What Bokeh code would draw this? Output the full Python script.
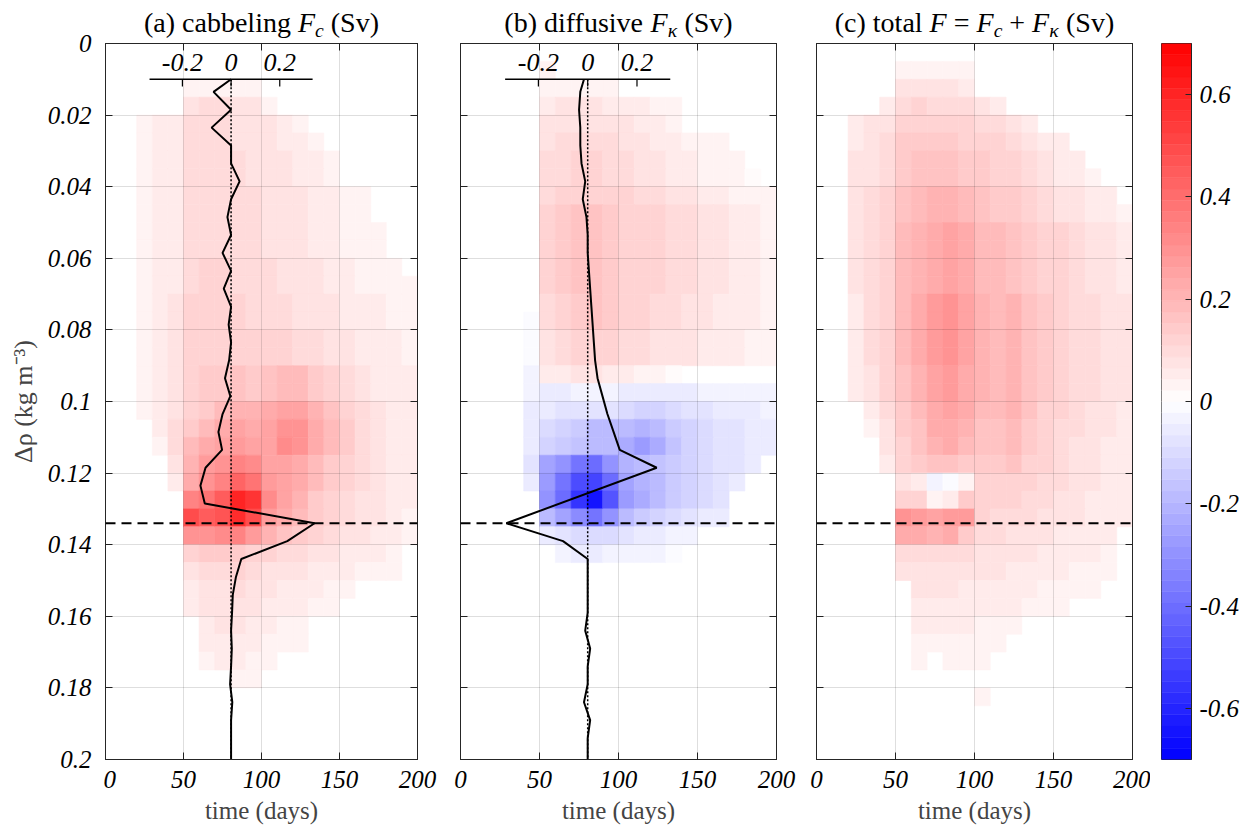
from bokeh.plotting import figure
from bokeh.models import (Range1d, LinearAxis, FixedTicker, CustomJSTickFormatter,
                          LinearColorMapper, ColumnDataSource, Span)
from bokeh.transform import transform
from bokeh.layouts import row, column
from bokeh.embed import file_html
from bokeh.resources import INLINE
from bokeh.core.properties import value

# ------------------------------------------------------------------ data
TIME_EDGES = list(range(0, 201, 10))                 # days, 20 columns
RHO_EDGES = [round(0.005 * i, 3) for i in range(41)]  # kg m-3, 40 rows
X_TICKS = [0, 50, 100, 150, 200]
Y_TICKS = [0, 0.02, 0.04, 0.06, 0.08, 0.1, 0.12, 0.14, 0.16, 0.18, 0.2]
CB_TICKS = [-0.6, -0.4, -0.2, 0, 0.2, 0.4, 0.6]
INSET_TICKS = [-0.2, 0, 0.2]
INSET_LABELS = ["-0.2", "0", "0.2"]
DASH_RHO = 0.134
CLIM = 0.7

Z = [0] * 20
# values in 0.01 Sv ; rows = density bins (0 -> 0.2), columns = 10-day bins
FC = [
    Z, Z,
    [0,0,0,0,0,3,4,4,3,3,0,0,0,0,0,0,0,0,0,0],
    [0,0,0,0,0,8,9,9,8,7,4,0,0,0,0,0,0,0,0,0],
    [0,0,4,5,5,9,10,9,8,8,7,6,3,0,0,0,0,0,0,0],
    [0,0,4,5,5,9,10,10,8,8,7,6,5,3,0,0,0,0,0,0],
    [0,0,4,5,6,9,10,10,9,8,8,7,6,5,3,0,0,0,0,0],
    [0,0,4,5,6,9,10,10,9,8,8,7,6,5,4,0,0,0,0,0],
    [0,0,4,5,6,10,10,10,9,9,8,7,7,6,5,4,3,0,0,0],
    [0,0,4,5,6,10,10,10,9,9,8,7,7,6,5,4,3,0,0,0],
    [0,0,4,5,6,10,10,10,9,9,8,7,7,6,5,4,3,3,0,0],
    [0,0,4,5,6,10,10,10,9,9,8,7,7,6,5,4,3,3,0,0],
    [0,0,4,5,6,10,11,11,10,9,9,8,7,7,6,5,4,4,3,0],
    [0,0,4,5,6,10,11,11,10,9,9,8,7,7,6,5,4,4,3,3],
    [0,0,4,5,7,11,12,12,11,10,10,9,8,7,7,6,5,5,4,4],
    [0,0,4,5,7,11,12,12,11,10,10,9,8,7,7,6,5,5,4,4],
    [0,0,4,5,7,12,13,13,12,12,12,12,10,9,8,7,6,5,5,4],
    [0,0,4,5,7,12,13,13,12,12,12,12,10,9,8,7,6,5,5,4],
    [0,0,4,6,8,12,14,15,16,15,16,18,18,14,12,10,8,6,5,5],
    [0,0,4,6,8,12,14,15,16,15,16,18,18,14,12,10,8,6,5,5],
    [0,0,3,5,8,12,15,18,20,20,22,25,25,20,16,12,10,8,6,5],
    [0,0,0,5,10,15,18,22,25,22,25,30,30,22,18,14,10,8,6,5],
    [0,0,0,3,10,18,22,25,28,25,25,32,30,22,18,14,10,8,6,5],
    [0,0,0,0,8,20,28,30,35,32,25,25,22,18,15,12,10,8,6,5],
    [0,0,0,0,5,22,30,35,42,38,28,25,22,18,15,12,10,8,6,5],
    [0,0,0,0,0,35,38,45,60,55,32,25,20,15,12,10,8,7,6,5],
    [0,0,0,0,0,50,45,48,58,50,28,22,18,14,12,10,8,7,6,4],
    [0,0,0,0,0,30,30,32,35,28,20,16,14,12,10,8,7,6,5,3],
    [0,0,0,0,0,12,14,15,15,13,12,10,9,8,7,6,5,5,4,0],
    [0,0,0,0,0,8,10,10,12,10,8,8,7,6,5,5,4,4,3,0],
    [0,0,0,0,0,6,8,8,10,8,7,6,6,5,4,3,0,0,0,0],
    [0,0,0,0,0,5,7,8,8,7,6,5,5,4,4,0,0,0,0,0],
    [0,0,0,0,0,0,6,7,7,6,5,4,3,0,0,0,0,0,0,0],
    [0,0,0,0,0,0,5,6,6,5,4,3,3,0,0,0,0,0,0,0],
    [0,0,0,0,0,0,4,5,5,4,3,0,0,0,0,0,0,0,0,0],
    [0,0,0,0,0,0,0,0,4,3,0,0,0,0,0,0,0,0,0,0],
    Z, Z, Z, Z,
]

FK = [
    Z,
    [0,0,0,0,0,3,0,0,0,0,0,0,0,0,0,0,0,0,0,0],
    [0,0,0,0,0,4,4,4,4,3,0,0,0,0,0,0,0,0,0,0],
    [0,0,0,0,0,6,7,7,7,6,6,5,4,3,0,0,0,0,0,0],
    [0,0,0,0,0,7,8,8,8,8,7,6,5,4,0,0,0,0,0,0],
    [0,0,0,0,0,8,9,9,9,9,8,7,6,5,4,3,3,0,0,0],
    [0,0,0,0,0,9,10,11,11,10,9,8,7,6,5,4,3,3,0,0],
    [0,0,0,0,0,9,10,11,11,10,9,8,7,6,5,4,3,3,2,0],
    [0,0,0,0,0,10,12,13,13,12,11,10,9,8,7,6,5,4,3,3],
    [0,0,0,0,0,11,14,16,17,15,13,12,11,10,9,8,7,6,5,4],
    [0,0,0,0,0,11,14,16,17,15,13,12,11,10,9,8,7,6,5,4],
    [0,0,0,0,0,11,14,16,17,15,13,12,11,10,9,8,7,6,5,4],
    [0,0,0,0,0,11,14,16,17,15,13,12,11,10,9,8,7,6,5,4],
    [0,0,0,0,0,11,14,16,17,15,13,12,11,10,9,8,7,6,5,4],
    [0,0,0,0,0,10,13,15,16,14,12,11,10,9,8,7,6,5,5,4],
    [0,0,0,0,-2,10,13,15,16,14,12,11,10,9,8,7,6,5,5,4],
    [0,0,0,0,-2,8,10,12,12,11,10,9,8,7,7,6,5,5,4,4],
    [0,0,0,0,-2,8,10,12,12,11,10,9,8,7,7,6,5,5,4,4],
    [0,0,0,0,-3,5,6,7,7,6,5,4,3,2,0,0,0,0,0,0],
    [0,0,0,0,-4,-5,-5,-4,-3,-4,-5,-6,-6,-5,-5,-4,-4,-3,-3,-3],
    [0,0,0,0,-5,-6,-7,-8,-8,-8,-10,-12,-12,-10,-8,-7,-6,-5,-5,-4],
    [0,0,0,0,-6,-9,-12,-14,-18,-18,-18,-20,-18,-14,-11,-9,-8,-7,-6,-5],
    [0,0,0,0,-6,-12,-15,-16,-18,-18,-22,-28,-22,-16,-12,-10,-8,-7,-6,-5],
    [0,0,0,0,-8,-25,-30,-38,-40,-30,-20,-18,-16,-14,-12,-10,-8,-7,-6,0],
    [0,0,0,0,-6,-28,-38,-50,-52,-40,-25,-20,-18,-15,-12,-10,-8,-6,0,0],
    [0,0,0,0,0,-30,-40,-55,-65,-48,-28,-22,-18,-15,-12,-10,-8,0,0,0],
    [0,0,0,0,0,-18,-25,-32,-38,-30,-18,-14,-12,-10,-8,-6,-5,0,0,0],
    [0,0,0,0,0,-5,-8,-10,-10,-9,-7,-6,-5,-4,-3,0,0,0,0,0],
    [0,0,0,0,0,0,-4,-5,-5,-4,-3,-3,-3,-2,0,0,0,0,0,0],
    Z, Z, Z, Z, Z, Z, Z, Z, Z, Z, Z,
]

FT = [
    Z,
    [0,0,0,0,0,4,4,3,4,3,0,0,0,0,0,0,0,0,0,0],
    [0,0,0,0,0,8,8,7,7,6,0,0,0,0,0,0,0,0,0,0],
    [0,0,0,0,6,10,11,10,10,9,7,5,0,0,0,0,0,0,0,0],
    [0,0,6,7,8,12,13,12,12,11,10,9,7,5,0,0,0,0,0,0],
    [0,0,6,8,9,14,15,15,15,13,12,11,10,8,6,5,0,0,0,0],
    [0,0,7,8,10,15,17,17,17,15,14,12,11,10,8,6,5,0,0,0],
    [0,0,7,8,10,15,17,17,17,15,14,12,11,10,8,6,5,4,0,0],
    [0,0,7,9,11,17,19,20,20,18,16,15,14,12,10,8,7,6,5,0],
    [0,0,7,9,11,17,19,20,20,18,16,15,14,12,10,8,7,6,5,4],
    [0,0,7,9,12,18,21,24,25,22,19,18,17,15,13,11,9,8,7,6],
    [0,0,7,9,12,18,21,24,25,22,19,18,17,15,13,11,9,8,7,6],
    [0,0,7,9,12,18,21,24,25,22,19,18,17,15,13,11,9,8,7,6],
    [0,0,7,9,12,18,21,24,25,22,19,18,17,15,13,11,9,8,7,6],
    [0,0,6,9,12,18,22,28,30,25,20,19,20,17,14,12,10,9,8,7],
    [0,0,6,9,12,18,22,28,30,25,20,19,20,17,14,12,10,9,8,7],
    [0,0,6,9,12,18,22,28,30,25,20,19,20,17,14,12,10,9,8,7],
    [0,0,6,9,12,18,22,28,30,25,20,19,20,17,14,12,10,9,8,7],
    [0,0,5,8,11,17,21,26,28,24,20,19,21,17,14,12,10,9,8,7],
    [0,0,5,8,11,17,21,26,28,24,20,19,21,17,14,12,10,9,8,7],
    [0,0,0,6,10,15,19,24,26,22,18,18,20,16,13,11,9,8,7,6],
    [0,0,0,4,8,14,17,22,24,20,17,17,19,15,12,10,9,8,7,6],
    [0,0,0,0,7,13,16,20,22,18,16,16,18,14,11,10,8,7,6,5],
    [0,0,0,0,5,12,14,16,16,15,14,15,16,13,11,9,8,7,6,5],
    [0,0,0,0,0,8,6,-3,-2,4,12,13,13,12,10,9,8,7,6,5],
    [0,0,0,0,0,12,12,3,6,14,12,11,11,10,9,8,7,6,6,5],
    [0,0,0,0,0,30,28,25,28,28,12,10,10,9,8,7,7,6,5,5],
    [0,0,0,0,0,22,22,20,24,14,9,9,8,8,7,6,6,5,5,0],
    [0,0,0,0,0,10,10,10,10,9,8,8,7,7,6,6,5,5,4,0],
    [0,0,0,0,0,7,8,8,8,7,7,7,6,6,5,5,4,4,3,0],
    [0,0,0,0,0,0,7,7,7,6,6,6,5,5,4,4,3,3,0,0],
    [0,0,0,0,0,0,6,6,6,6,5,5,5,4,4,3,0,0,0,0],
    [0,0,0,0,0,0,5,5,5,5,4,4,3,0,0,0,0,0,0,0],
    [0,0,0,0,0,0,4,4,4,4,3,3,0,0,0,0,0,0,0,0],
    [0,0,0,0,0,0,4,0,3,3,3,0,0,0,0,0,0,0,0,0],
    Z,
    [0,0,0,0,0,0,0,0,0,0,3,0,0,0,0,0,0,0,0,0],
    Z, Z, Z,
]

# density-integrated profiles (Sv) drawn on the inset axis
RHO_A = [0.010, 0.0135, 0.0185, 0.0235, 0.0285, 0.0335, 0.0385, 0.0435, 0.0485,
         0.0535, 0.0585, 0.0635, 0.0685, 0.0735, 0.0785, 0.0835, 0.0885, 0.0935,
         0.0985, 0.1035, 0.1085, 0.1135, 0.1185, 0.1235, 0.1285, 0.1340, 0.1390,
         0.1440, 0.1490, 0.1540, 0.1590, 0.1640, 0.1690, 0.1740, 0.1790, 0.1840,
         0.1890, 0.1940, 0.2000]
FC_PROFILE = [0.0, -0.072, 0.0, -0.080, 0.0, 0.0, 0.035, 0.0, -0.015,
              0.0, -0.035, 0.0, -0.030, 0.0, -0.010, 0.0, -0.008, -0.025,
              -0.003, -0.035, -0.052, -0.037, -0.105, -0.126, -0.108, 0.343, 0.231,
              0.042, 0.020, 0.007, 0.004, 0.0, 0.003, 0.0, -0.004, 0.005,
              0.0, 0.0, 0.0]
RHO_B = [0.010, 0.0135, 0.0185, 0.0235, 0.0285, 0.0335, 0.0385, 0.0435, 0.0485,
         0.0535, 0.0585, 0.0635, 0.0685, 0.0735, 0.0785, 0.0835, 0.0885, 0.0935,
         0.0985, 0.1035, 0.1085, 0.1135, 0.1185, 0.1340, 0.1390, 0.1440, 0.1490,
         0.1540, 0.1590, 0.1640, 0.1690, 0.1740, 0.1790, 0.1840, 0.1890, 0.1940,
         0.2000]
FK_PROFILE = [-0.015, -0.030, -0.035, -0.030, -0.030, -0.025, -0.010, -0.020, -0.005,
              0.0, 0.0, 0.005, 0.010, 0.015, 0.020, 0.025, 0.030, 0.040,
              0.060, 0.080, 0.105, 0.130, 0.280, -0.330, -0.100, 0.0, 0.0,
              0.0, 0.0, -0.010, 0.010, 0.0, 0.0, -0.015, 0.010, 0.0,
              0.0]

assert len(FC) == len(FK) == len(FT) == 40
assert len(RHO_A) == len(FC_PROFILE) and len(RHO_B) == len(FK_PROFILE)

# ------------------------------------------------------------------ style / layout
FONT = "Liberation Serif"
INK = "#262626"
TITLE_H = 40
MAIN_H = 792
TOP, BOTTOM = 3, 73
ZERO_DAY, DAYS_PER_SV = 80.5, 156.0
FLUX_LO, FLUX_HI = (0 - ZERO_DAY) / DAYS_PER_SV, (200 - ZERO_DAY) / DAYS_PER_SV
INSET_HALF = 0.335
YF_W = 103          # width of the strip that carries the Δρ tick labels

# (left border, frame width, right border) of the three panels and the colour bar
GEOM = [(2, 312, 20), (23, 316, 20), (20, 316, 18), (11, 30, 55)]

N_LEVELS = 64


def bwr(t):
    if t < 0:
        a = 1 + t
        return (int(round(255 * a)), int(round(255 * a)), 255)
    a = 1 - t
    return (255, int(round(255 * a)), int(round(255 * a)))


PALETTE = ["#%02x%02x%02x" % bwr(-1 + (i + 0.5) * 2 / N_LEVELS) for i in range(N_LEVELS)]
MAPPER = LinearColorMapper(palette=PALETTE, low=-CLIM, high=CLIM)

TIMES_W = {' ': 250, '(': 333, ')': 333, 'a': 444, 'b': 500, 'c': 444, 'd': 500, 'e': 444,
           'f': 333, 'g': 500, 'i': 278, 'l': 278, 'n': 500, 'o': 500, 's': 389, 't': 278,
           'u': 500, 'v': 500, 'S': 556, '=': 564, '+': 564, 'F': 611, 'κ': 500}


def text_w(s, size):
    return sum(TIMES_W.get(ch, 500) for ch in s) * size / 1000.0


def cells(grid):
    d = dict(left=[], right=[], top=[], bottom=[], v=[])
    for r, rowvals in enumerate(grid):
        for c, val in enumerate(rowvals):
            if val != 0:
                d["left"].append(TIME_EDGES[c])
                d["right"].append(TIME_EDGES[c + 1])
                d["top"].append(RHO_EDGES[r])
                d["bottom"].append(RHO_EDGES[r + 1])
                d["v"].append(val / 100.0)
    return d


def tick_fmt():
    return CustomJSTickFormatter(code="return tick.toFixed(2).replace(/0+$/, '').replace(/\\.$/, '');")


def style_axis(ax, labels=True):
    ax.major_tick_in = 7
    ax.major_tick_out = 0
    ax.minor_tick_line_color = None
    ax.axis_line_color = INK
    ax.major_tick_line_color = INK
    if labels:
        ax.formatter = tick_fmt()
        ax.major_label_text_font = FONT
        ax.major_label_text_font_style = "italic"
        ax.major_label_text_font_size = "25px"
        ax.major_label_text_color = "black"
    else:
        ax.formatter = CustomJSTickFormatter(code="return '';")
        ax.major_label_text_font_size = "1px"
        ax.major_label_standoff = 0


def make_panel(grid, geom, rho=None, prof=None):
    bl, fw, br = geom
    p = figure(width=bl + fw + br, height=MAIN_H, x_range=Range1d(0, 200),
               y_range=Range1d(0.2, 0), min_border_left=bl, min_border_right=br,
               min_border_top=TOP, min_border_bottom=BOTTOM, output_backend="svg",
               toolbar_location=None)
    p.outline_line_color = INK
    p.outline_line_width = 1
    p.border_fill_color = "white"
    p.background_fill_color = "white"

    p.xgrid.ticker = FixedTicker(ticks=X_TICKS)
    p.ygrid.ticker = FixedTicker(ticks=Y_TICKS)
    for g in (p.xgrid[0], p.ygrid[0]):
        g.grid_line_color = "black"
        g.grid_line_alpha = 0.13
        g.level = "guide"

    src = ColumnDataSource(cells(grid))
    p.quad(left="left", right="right", top="top", bottom="bottom", source=src,
           fill_color=transform("v", MAPPER), line_color=transform("v", MAPPER),
           line_width=0.6)

    xa = p.xaxis[0]
    xa.ticker = FixedTicker(ticks=X_TICKS)
    style_axis(xa, True)
    xa.major_label_standoff = 11
    xa.axis_label = "time (days)"
    xa.axis_label_text_font = FONT
    xa.axis_label_text_font_style = "normal"
    xa.axis_label_text_font_size = "25px"
    xa.axis_label_standoff = 6

    ya = p.yaxis[0]
    ya.ticker = FixedTicker(ticks=Y_TICKS)
    style_axis(ya, False)

    top_ax = LinearAxis(ticker=FixedTicker(ticks=X_TICKS))
    style_axis(top_ax, False)
    p.add_layout(top_ax, "above")
    right_ax = LinearAxis(ticker=FixedTicker(ticks=Y_TICKS))
    style_axis(right_ax, False)
    p.add_layout(right_ax, "right")

    if prof is not None:
        p.extra_x_ranges = {"flux": Range1d(FLUX_LO, FLUX_HI)}
        p.segment(x0=[0], x1=[0], y0=[0.01], y1=[0.2], x_range_name="flux",
                  line_color="black", line_width=1.5, line_dash="2 2")
        p.segment(x0=[-INSET_HALF], x1=[INSET_HALF], y0=[0.01], y1=[0.01],
                  x_range_name="flux", line_color="black", line_width=1.5)
        p.segment(x0=INSET_TICKS, x1=INSET_TICKS, y0=[0.01] * 3, y1=[0.012] * 3,
                  x_range_name="flux", line_color="black", line_width=1.2)
        p.text(x=INSET_TICKS, y=[0.0052] * 3, text=INSET_LABELS, x_range_name="flux",
               text_font=value(FONT), text_font_style="italic", text_font_size="26px",
               text_align="center", text_baseline="middle", text_color="black")
        p.line(x=prof, y=rho, x_range_name="flux", line_color="black", line_width=2)

    p.add_layout(Span(location=DASH_RHO, dimension="width", line_color="black",
                      line_width=2, line_dash="10 6"))
    return p


pa = make_panel(FC, GEOM[0], RHO_A, FC_PROFILE)
pb = make_panel(FK, GEOM[1], RHO_B, FK_PROFILE)
pc = make_panel(FT, GEOM[2])

# Δρ axis (labels) in its own full-height strip so the top label is not clipped
yf = figure(width=YF_W, height=TITLE_H + MAIN_H, x_range=Range1d(0, 1),
            y_range=Range1d(0.2, 0), min_border_left=YF_W - 1, min_border_right=0,
            min_border_top=TITLE_H + TOP, min_border_bottom=BOTTOM,
            x_axis_location=None, y_axis_location="left", output_backend="svg",
            toolbar_location=None)
yf.xgrid.visible = False
yf.ygrid.visible = False
yf.outline_line_color = None
yya = yf.yaxis[0]
yya.ticker = FixedTicker(ticks=Y_TICKS)
style_axis(yya, True)
yya.major_tick_in = 0
yya.major_tick_line_color = None
yya.axis_line_color = None
yya.major_label_standoff = 11
yya.axis_label = "Δρ (kg m⁻³)"
yya.axis_label_text_font = FONT
yya.axis_label_text_font_style = "normal"
yya.axis_label_text_font_size = "26px"
yya.axis_label_standoff = 7

# colour bar
bl, fw, br = GEOM[3]
cb = figure(width=bl + fw + br, height=MAIN_H, x_range=Range1d(0, 1),
            y_range=Range1d(-CLIM, CLIM), x_axis_location=None, y_axis_location="right",
            min_border_left=bl, min_border_right=br, min_border_top=TOP,
            min_border_bottom=BOTTOM, output_backend="svg", toolbar_location=None)
cb.xgrid.visible = False
cb.ygrid.visible = False
cb.outline_line_color = INK
step = 2 * CLIM / N_LEVELS
cb_src = ColumnDataSource(dict(bottom=[-CLIM + i * step for i in range(N_LEVELS)],
                               top=[-CLIM + (i + 1) * step for i in range(N_LEVELS)],
                               color=PALETTE))
cb.quad(left=0, right=1, bottom="bottom", top="top", fill_color="color",
        line_color="color", line_width=0.5, source=cb_src)
cya = cb.yaxis[0]
cya.ticker = FixedTicker(ticks=CB_TICKS)
style_axis(cya, True)
cya.formatter = CustomJSTickFormatter(
    code="var s = tick.toFixed(1); return (s == '0.0' || s == '-0.0') ? '0' : s;")
cya.major_tick_in = 6
cya.major_label_standoff = 8

# ------------------------------------------------------------------ titles strip
TITLES = [
    [("(a) cabbeling ", False, False), ("F", True, False), ("c", True, True),
     (" (Sv)", False, False)],
    [("(b) diffusive ", False, False), ("F", True, False), ("κ", True, True),
     (" (Sv)", False, False)],
    [("(c) total ", False, False), ("F", True, False), (" = ", False, False),
     ("F", True, False), ("c", True, True), (" + ", False, False),
     ("F", True, False), ("κ", True, True), (" (Sv)", False, False)],
]
TITLE_SIZE = 28
TITLE_MID = 22      # vertical middle of the main title text (px from top)
SUB_DROP = 8        # subscripts sit lower

total_w = sum(g[0] + g[1] + g[2] for g in GEOM)
tf = figure(width=total_w, height=TITLE_H, x_range=Range1d(0, total_w),
            y_range=Range1d(TITLE_H, 0), min_border=0, x_axis_location=None,
            y_axis_location=None, output_backend="svg", toolbar_location=None)
tf.xgrid.visible = False
tf.ygrid.visible = False
tf.outline_line_color = None

x0 = 0
for geom, pieces in zip(GEOM[:3], TITLES):
    centre = x0 + geom[0] + geom[1] / 2.0
    sizes = [TITLE_SIZE * (0.7 if sub else 1.0) for _, _, sub in pieces]
    widths = [text_w(t, s) for (t, _, _), s in zip(pieces, sizes)]
    x = centre - sum(widths) / 2.0
    for (t, it, sub), s, w in zip(pieces, sizes, widths):
        lead = len(t) - len(t.lstrip())
        tf.text(x=[x + lead * TIMES_W[' '] * s / 1000.0],
                y=[TITLE_MID + (SUB_DROP if sub else 0)], text=[t.strip()],
                text_font=value(FONT), text_font_size="%.1fpx" % s,
                text_font_style="italic" if it else "normal",
                text_align="left", text_baseline="middle", text_color="black")
        x += w
    x0 += geom[0] + geom[1] + geom[2]

layout = row(yf, column(tf, row(pa, pb, pc, cb)))
open("out.html", "w").write(file_html(layout, INLINE))
